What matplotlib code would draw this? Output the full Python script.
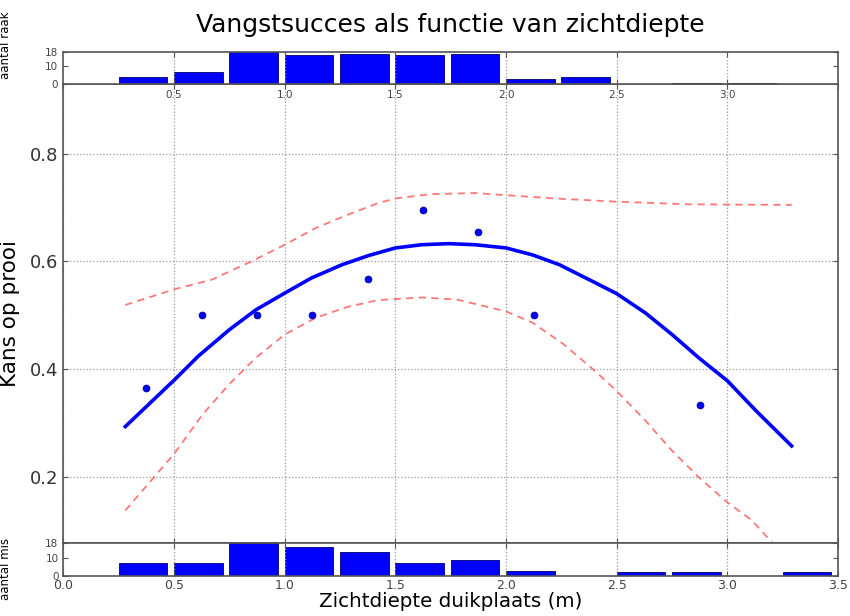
import numpy as np
import matplotlib.pyplot as plt

# klassen (linkerrand, breedte 0.25 m)
bin_links = [0.25, 0.5, 0.75, 1.0, 1.25, 1.5, 1.75, 2.0, 2.25, 2.5, 2.75, 3.0, 3.25]
n_raak = [4, 7, 18, 16, 17, 16, 17, 3, 4, 0, 1, 1, 0]
n_mis = [7, 7, 18, 16, 13, 7, 9, 3, 0, 2, 2, 0, 2]

# fractie raak per klasse (alleen zichtbare punten)
punt_x = [0.375, 0.625, 0.875, 1.125, 1.375, 1.625, 1.875, 2.125, 2.875]
punt_p = [0.364, 0.500, 0.500, 0.500, 0.567, 0.696, 0.654, 0.500, 0.333]

# gefitte curve
fit_x = [0.28, 0.50, 0.61, 0.75, 0.87, 1.00, 1.12, 1.26, 1.38, 1.50, 1.62, 1.74,
         1.86, 2.00, 2.12, 2.24, 2.39, 2.50, 2.63, 2.75, 2.87, 3.00, 3.13, 3.29]
fit_p = [0.293, 0.379, 0.424, 0.473, 0.510, 0.541, 0.569, 0.594, 0.611, 0.625, 0.631, 0.633,
         0.631, 0.625, 0.612, 0.594, 0.563, 0.540, 0.504, 0.464, 0.421, 0.378, 0.322, 0.257]

# betrouwbaarheidsband
boven_x = [0.28, 0.50, 0.67, 0.85, 1.00, 1.14, 1.28, 1.42, 1.50, 1.66, 1.86, 2.00,
           2.22, 2.50, 2.83, 3.29]
boven_p = [0.519, 0.548, 0.566, 0.600, 0.631, 0.662, 0.686, 0.708, 0.717, 0.725, 0.727, 0.723,
           0.717, 0.711, 0.706, 0.705]
onder_x = [0.28, 0.41, 0.50, 0.63, 0.75, 0.87, 1.00, 1.14, 1.28, 1.42, 1.62, 1.78, 2.00,
           2.12, 2.26, 2.40, 2.50, 2.63, 2.75, 2.87, 3.00, 3.11, 3.20, 3.29]
onder_p = [0.137, 0.199, 0.242, 0.316, 0.372, 0.421, 0.464, 0.495, 0.515, 0.528, 0.533, 0.529,
           0.507, 0.486, 0.446, 0.397, 0.359, 0.304, 0.248, 0.199, 0.152, 0.119, 0.078, 0.050]

spine_kleur = '#555555'
grid_kw = dict(color='#9a9a9a', linestyle=':', linewidth=0.9)


def opmaak(ax):
    for s in ax.spines.values():
        s.set_color(spine_kleur)
        s.set_linewidth(1.2)
    ax.tick_params(direction='in', top=True, right=True, color=spine_kleur)


fig = plt.figure(figsize=(8.5, 6.16), dpi=100)
links, breed = 0.0745, 0.9115
ax = fig.add_axes([links, 0.118, breed, 0.745])
ax_top = fig.add_axes([links, 0.863, breed, 0.053])
ax_bot = fig.add_axes([links, 0.065, breed, 0.053])
ax_top.set_zorder(3)

# hoofdfiguur
ax.plot(fit_x, fit_p, '-', color='#0000ff', linewidth=2.6)
ax.plot(boven_x, boven_p, '--', color='#ff5555', alpha=0.8, linewidth=1.3, dashes=(4, 3))
ax.plot(onder_x, onder_p, '--', color='#ff5555', alpha=0.8, linewidth=1.3, dashes=(4, 3))
ax.plot(punt_x, punt_p, 'o', color='#0000ff', markersize=5, markeredgecolor='#00008b',
        markeredgewidth=0.5)
ax.set_xlim(0, 3.5)
ax.set_ylim(0.076, 0.929)
ax.set_xticks(np.arange(0, 3.51, 0.5))
ax.set_yticks([0.2, 0.4, 0.6, 0.8])
ax.tick_params(labelbottom=False, labelsize=13, colors='#333333')
ax.grid(True, **grid_kw)
ax.set_ylabel('Kans op prooi', fontsize=15.5)
ax.yaxis.set_label_coords(-0.056, 0.5)
opmaak(ax)

# histogram raak
ax_top.bar(bin_links, n_raak, width=0.22, align='edge', color='#0000ff',
           edgecolor='#000070', linewidth=0.6)
ax_top.set_xlim(0, 3.5)
ax_top.set_ylim(0, 18)
ax_top.set_yticks([0, 10, 18])
ax_top.set_xticks([0.5, 1.0, 1.5, 2.0, 2.5, 3.0])
ax_top.tick_params(labelsize=7.5, colors='#444444', pad=4)
ax_top.xaxis.grid(True, **grid_kw)
ax_top.set_ylabel('aantal raak', fontsize=8.5)
ax_top.yaxis.set_label_coords(-0.066, 1.2)
opmaak(ax_top)

# histogram mis
ax_bot.bar(bin_links, n_mis, width=0.22, align='edge', color='#0000ff',
           edgecolor='#000070', linewidth=0.6)
ax_bot.set_xlim(0, 3.5)
ax_bot.set_ylim(0, 18)
ax_bot.set_yticks([0, 10, 18])
ax_bot.set_xticks(np.arange(0, 3.51, 0.5))
ax_bot.tick_params(axis='y', labelsize=7.5, colors='#444444')
ax_bot.tick_params(axis='x', labelsize=9, colors='#444444', pad=2)
ax_bot.xaxis.grid(True, **grid_kw)
ax_bot.set_ylabel('aantal mis', fontsize=8.5)
ax_bot.yaxis.set_label_coords(-0.066, 0.2)
ax_bot.set_xlabel('Zichtdiepte duikplaats (m)', fontsize=14.3, labelpad=0)
opmaak(ax_bot)

fig.text(0.530, 0.959, 'Vangstsucces als functie van zichtdiepte', fontsize=18,
         ha='center', va='center')

fig.savefig('out.png', dpi=100)
